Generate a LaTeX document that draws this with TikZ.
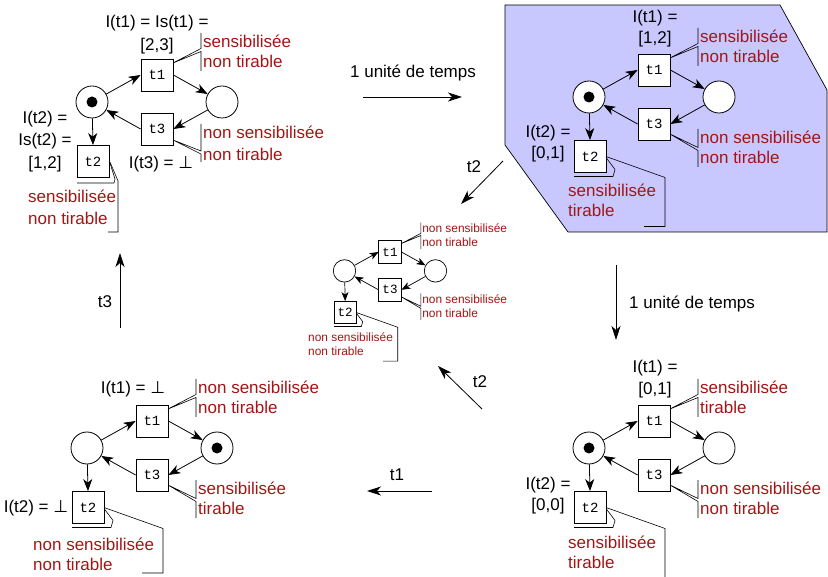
\documentclass[tikz,border=0pt]{standalone}
\usepackage{fontspec}
\setmainfont{Liberation Sans}
\newfontfamily\monof{Liberation Mono}
\newfontfamily\symf{DejaVu Sans}
\usetikzlibrary{arrows.meta}
\definecolor{lblred}{RGB}{165,20,20}
\definecolor{zone}{RGB}{200,200,255}
\newcommand\perpsym{{\symf ⊥}}
\tikzset{
  trans/.style={draw, fill=white, minimum size=32pt, inner sep=0pt, font=\monof\fontsize{14}{14}\selectfont, line width=0.8pt},
  place/.style={draw, fill=white, circle, minimum size=32pt, inner sep=0pt, line width=0.8pt},
  arc/.style={-{Stealth[length=12pt,width=9pt,inset=3.5pt]}, line width=0.8pt},
  co/.style={line width=0.6pt},
  rt/.style={anchor=base west, inner sep=0pt, text=lblred, font=\fontsize{17}{20}\selectfont},
  bt/.style={anchor=base, inner sep=0pt, font=\fontsize{17}{20}\selectfont},
  btl/.style={anchor=base west, inner sep=0pt, font=\fontsize{17}{20}\selectfont},
  bigarrow/.style={-{Stealth[length=14pt,width=9pt,inset=4pt]}, line width=0.8pt},
}
% net: prefix, token in p1, token in p2
\newcommand\net[3]{%
  \node[place] (#1p1) at (-65,27) {};
  \node[place] (#1p2) at (65,27) {};
  \node[trans] (#1t1) at (0,0) {t1};
  \node[trans] (#1t3) at (0,54) {t3};
  \node[trans] (#1t2) at (-64,86.5) {t2};
  \draw[arc] (#1p1) -- (#1t1.west);
  \draw[arc] (#1t1.east) -- (#1p2);
  \draw[arc] (#1p2) -- (#1t3.east);
  \draw[arc] (#1t3.west) -- (#1p1);
  \draw[arc] (#1p1) -- (#1t2.north);
  \ifnum#2=1 \fill (#1p1.center) circle (5.5);\fi
  \ifnum#3=1 \fill (#1p2.center) circle (5.5);\fi
}
% t1 callout (relative coords)
\newcommand\coone[2]{%
  \draw[co] (44,-42) -- (44,-26.5) -- (16,-12) -- (44,-23.5) -- (44,-4);
  \node[rt] at (46,-27.5) {#1};
  \node[rt] at (46,-7.5) {#2};
}
% t3 callout (generic)
\newcommand\cothree[2]{%
  \draw[co] (44,59) -- (44,77.5) -- (16,64) -- (44,80.5) -- (44,97);
  \node[rt] at (46,73.5) {#1};
  \node[rt] at (46,93.5) {#2};
}
% t2 callout (generic): bar bottom, text left, first baseline, lines
\newcommand\cotwo[5]{%
  \draw[co] (-48,86.5) -- (11,107.5) -- (11,#1) -- (-10,#1);
  \draw[co] (-48,87.5) -- (-39,99.5) -- (-41,106.5) -- (-80,106.5);
  \node[rt] at (#2,#3) {#4};
  \node[rt] at (#2,#3+20) {#5};
}
\begin{document}
\begin{tikzpicture}[x=1pt,y=-1pt]
\useasboundingbox (0,0) rectangle (828,577);

% highlighted zone
\draw[fill=zone, line width=0.7pt] (505,5) -- (780,5) -- (827,90) -- (827,232) -- (568,232) -- (505,145) -- cycle;

% ---- A: top left
\begin{scope}[shift={(157,75)}]
  \net{A}{1}{0}
  \coone{sensibilisée}{non tirable}
  \node[bt] at (0,-47.5) {I(t1) = Is(t1) =};
  \node[bt] at (0,-24.5) {[2,3]};
  \draw[co] (44,49) -- (44,76) -- (16,65) -- (44,79) -- (44,87);
  \node[rt] at (46,63.5) {non sensibilisée};
  \node[rt] at (46,85.5) {non tirable};
  \node[bt] at (4,93.5) {I(t3) = \perpsym};
  \node[bt] at (-112,48.5) {I(t2) =};
  \node[bt] at (-112,70.5) {Is(t2) =};
  \node[bt] at (-112,93.5) {[1,2]};
  \draw[co] (-47,87) -- (-39,106) -- (-39,157) -- (-49,157);
  \draw[co] (-47,88) -- (-42,104) -- (-43,108) -- (-80,108);
  \node[rt] at (-129,127.5) {sensibilisée};
  \node[rt] at (-129,149.5) {non tirable};
\end{scope}

% ---- B: top right
\begin{scope}[shift={(654,70)}]
  \net{B}{1}{0}
  \coone{sensibilisée}{non tirable}
  \node[bt] at (1,-47.5) {I(t1) =};
  \node[bt] at (1,-26.5) {[1,2]};
  \cothree{non sensibilisée}{non tirable}
  \node[bt] at (-106,67.5) {I(t2) =};
  \node[bt] at (-106,88.5) {[0,1]};
  \cotwo{156.5}{-86}{127}{sensibilisée}{tirable}
\end{scope}

% ---- C: bottom right
\begin{scope}[shift={(654,421)}]
  \net{C}{1}{0}
  \coone{sensibilisée}{tirable}
  \node[bt] at (1,-48.5) {I(t1) =};
  \node[bt] at (1,-26.5) {[0,1]};
  \cothree{non sensibilisée}{non tirable}
  \node[bt] at (-106,68.5) {I(t2) =};
  \node[bt] at (-106,89.5) {[0,0]};
  \cotwo{160}{-86}{127.5}{sensibilisée}{tirable}
\end{scope}

% ---- D: bottom left
\begin{scope}[shift={(152,421)}]
  \net{D}{0}{1}
  \coone{non sensibilisée}{non tirable}
  \node[bt] at (-19,-27.5) {I(t1) = \perpsym};
  \cothree{sensibilisée}{tirable}
  \node[bt] at (-116,91.5) {I(t2) = \perpsym};
  \cotwo{152}{-119}{129.5}{non sensibilisée}{non tirable}
\end{scope}

% ---- M: middle (small)
\begin{scope}[shift={(390,252)}, scale=0.7, transform shape]
  \tikzset{arc/.style={-{Stealth[length=9pt,width=7pt,inset=2.5pt]}, line width=0.7pt},
           trans/.style={draw, fill=white, minimum size=32pt, inner sep=0pt, font=\monof\fontsize{18}{18}\selectfont, line width=0.7pt},
           place/.style={draw, fill=white, circle, minimum size=32pt, inner sep=0pt, line width=0.7pt}}
  \net{M}{0}{0}
  \coone{non sensibilisée}{non tirable}
  \cothree{non sensibilisée}{non tirable}
  \cotwo{156}{-117}{128.5}{non sensibilisée}{non tirable}
\end{scope}

% ---- transitions between states
\coordinate (a1s) at (363,97);  \coordinate (a1e) at (462,97);
\draw[bigarrow] (a1s) -- (a1e);
\node[bt] (l1) at (413,77.5) {1 unité de temps};

\coordinate (a2s) at (503,161); \coordinate (a2e) at (461,204);
\draw[bigarrow] (a2s) -- (a2e);
\node[bt] (l2) at (474,172.5) {t2};

\coordinate (a3s) at (616,265); \coordinate (a3e) at (616,340);
\draw[bigarrow] (a3s) -- (a3e);
\node[btl] (l3) at (629,308.5) {1 unité de temps};

\coordinate (a4s) at (482,409); \coordinate (a4e) at (438,366);
\draw[bigarrow] (a4s) -- (a4e);
\node[bt] (l4) at (480,387.5) {t2};

\coordinate (a5s) at (432,491); \coordinate (a5e) at (367,491);
\draw[bigarrow] (a5s) -- (a5e);
\node[bt] (l5) at (397,480.5) {t1};

\coordinate (a6s) at (120,328); \coordinate (a6e) at (120,253);
\draw[bigarrow] (a6s) -- (a6e);
\node[bt] (l6) at (105,307.5) {t3};
\end{tikzpicture}
\end{document}
